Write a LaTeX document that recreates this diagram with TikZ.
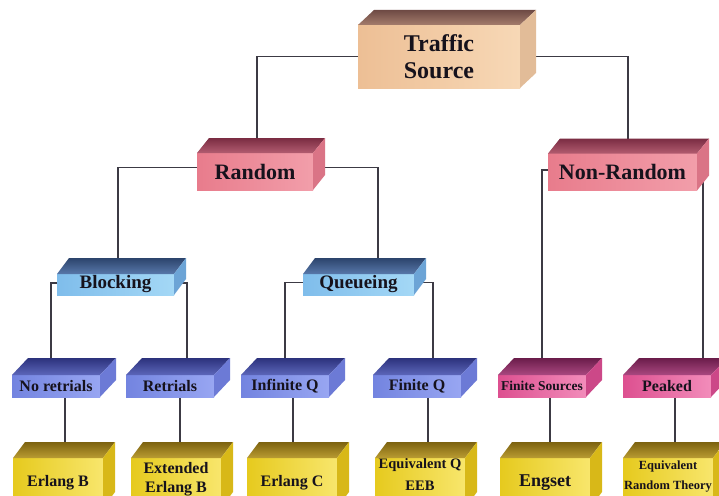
\documentclass[tikz,border=0pt]{standalone}
\usepackage{fontspec}
\setmainfont{Liberation Serif}
\usetikzlibrary{backgrounds}

\definecolor{ink}{HTML}{16121C}
\definecolor{wire}{HTML}{3C3A44}

% top and right faces of a box whose front face is the node #1
% #2,#3: depth offset (right, up); #4,#5: styles of the top and side faces
\newcommand\prismfaces[5]{%
  \path[#4] (#1.north west) -- ++(#2,-#3) -- ([shift={(#2,-#3)}]#1.north east) -- (#1.north east) -- cycle;
  \path[#5] (#1.north east) -- ++(#2,-#3) -- ([shift={(#2,-#3)}]#1.south east) -- (#1.south east) -- cycle;
}

\definecolor{srcA}{HTML}{EDBF95}\definecolor{srcB}{HTML}{F7D8B6}
\definecolor{srcC}{HTML}{6E4A44}\definecolor{srcD}{HTML}{A47C6C}
\definecolor{srcE}{HTML}{E2BC98}
\definecolor{redA}{HTML}{E87C8C}\definecolor{redB}{HTML}{F29EAA}
\definecolor{redC}{HTML}{7A2C42}\definecolor{redD}{HTML}{B25C70}
\definecolor{redE}{HTML}{DA7486}
\definecolor{skyA}{HTML}{7FBDEB}\definecolor{skyB}{HTML}{A4D8F6}
\definecolor{skyC}{HTML}{2C446C}\definecolor{skyD}{HTML}{5878AA}
\definecolor{skyE}{HTML}{6CA4D6}
\definecolor{bluA}{HTML}{7384E0}\definecolor{bluB}{HTML}{98A6F2}
\definecolor{bluC}{HTML}{2C327C}\definecolor{bluD}{HTML}{5C66BA}
\definecolor{bluE}{HTML}{6C7AD6}
\definecolor{pnkA}{HTML}{DD5090}\definecolor{pnkB}{HTML}{F28CBA}
\definecolor{pnkC}{HTML}{6A1C4A}\definecolor{pnkD}{HTML}{AA4880}
\definecolor{pnkE}{HTML}{CC4888}
\definecolor{gldA}{HTML}{E6CA1E}\definecolor{gldB}{HTML}{F8E66C}
\definecolor{gldC}{HTML}{7C6210}\definecolor{gldD}{HTML}{BA9C32}
\definecolor{gldE}{HTML}{D8B818}

\begin{document}
\begin{tikzpicture}[x=1pt,y=-1pt,
  face/.style={rectangle, inner sep=0pt, outer sep=0pt, text=ink, align=center},
  link/.style={draw=wire, line width=1.1pt},
  % source box
  srcbox/.style={face, minimum width=162pt, minimum height=63pt,
    left color=srcA, right color=srcB,
    font=\bfseries\fontsize{24}{27}\selectfont},
  srctop/.style={top color=srcC, bottom color=srcD},
  srcside/.style={fill=srcE},
  % second level
  redbox/.style={face, minimum height=37pt,
    left color=redA, right color=redB,
    font=\bfseries\fontsize{22}{24}\selectfont},
  redtop/.style={top color=redC, bottom color=redD},
  redside/.style={fill=redE},
  % third level
  skybox/.style={face, minimum width=115pt, minimum height=21pt,
    left color=skyA, right color=skyB,
    font=\bfseries\fontsize{19}{21}\selectfont},
  skytop/.style={top color=skyC, bottom color=skyD},
  skyside/.style={fill=skyE},
  % fourth level
  bluebox/.style={face, minimum width=88pt, minimum height=22pt,
    left color=bluA, right color=bluB,
    font=\bfseries\fontsize{16}{18}\selectfont},
  bluetop/.style={top color=bluC, bottom color=bluD},
  blueside/.style={fill=bluE},
  pinkbox/.style={face, minimum width=88pt, minimum height=22pt,
    left color=pnkA, right color=pnkB,
    font=\bfseries\fontsize{16}{18}\selectfont},
  pinktop/.style={top color=pnkC, bottom color=pnkD},
  pinkside/.style={fill=pnkE},
  % fifth level; two-line labels get a fixed text box to sit higher
  goldbox/.style={face, minimum width=90pt, minimum height=50pt,
    left color=gldA, right color=gldB,
    font=\bfseries\fontsize{16}{19}\selectfont},
  lifted/.style={text height=#1, text depth=0pt},
  goldtop/.style={top color=gldC, bottom color=gldD},
  goldside/.style={fill=gldE},
]

\useasboundingbox (0,0) rectangle (719,495);
\clip (0,0) rectangle (719,495);

% ---- boxes ----
\node[srcbox] (ts) at (439,56.5) {Traffic\\Source};
\prismfaces{ts}{16}{15}{srctop}{srcside}

\node[redbox, minimum width=116pt] (rnd) at (255,171.5) {Random};
\prismfaces{rnd}{12}{15}{redtop}{redside}
\node[redbox, minimum width=149pt] (nonrnd) at (622.5,172) {Non-Random};
\prismfaces{nonrnd}{12}{15}{redtop}{redside}

\node[skybox, minimum width=117pt] (blk) at (115.5,284.5) {Blocking};
\prismfaces{blk}{12}{16}{skytop}{skyside}
\node[skybox, minimum width=111pt] (que) at (358.5,284.5) {Queueing};
\prismfaces{que}{12}{16}{skytop}{skyside}

\node[bluebox] (noretr) at (56,386) {No retrials};
\prismfaces{noretr}{16}{17}{bluetop}{blueside}
\node[bluebox] (retr) at (170,386) {Retrials};
\prismfaces{retr}{16}{17}{bluetop}{blueside}
\node[bluebox] (infq) at (285,386) {Infinite Q};
\prismfaces{infq}{16}{17}{bluetop}{blueside}
\node[bluebox] (finq) at (417,386) {Finite Q};
\prismfaces{finq}{16}{17}{bluetop}{blueside}
\node[pinkbox, font=\bfseries\fontsize{13.5}{16}\selectfont] (finsrc) at (542,386) {Finite Sources};
\prismfaces{finsrc}{16}{17}{pinktop}{pinkside}
\node[pinkbox] (peak) at (667,386) {Peaked};
\prismfaces{peak}{16}{17}{pinktop}{pinkside}

\node[goldbox] (erlb) at (58,483) {Erlang B};
\prismfaces{erlb}{12}{16}{goldtop}{goldside}
\node[goldbox, font=\bfseries\fontsize{16}{19}\selectfont, lifted=18pt] (exterlb) at (176,483) {Extended\\Erlang B};
\prismfaces{exterlb}{12}{16}{goldtop}{goldside}
\node[goldbox] (erlc) at (292,483) {Erlang C};
\prismfaces{erlc}{12}{16}{goldtop}{goldside}
\node[goldbox, font=\bfseries\fontsize{14.5}{22}\selectfont, lifted=14pt] (eqq) at (420,483) {Equivalent Q\\EEB};
\prismfaces{eqq}{12}{16}{goldtop}{goldside}
\node[goldbox, font=\bfseries\fontsize{18}{20}\selectfont] (engset) at (545,483) {Engset};
\prismfaces{engset}{12}{16}{goldtop}{goldside}
\node[goldbox, font=\bfseries\fontsize{12.5}{20}\selectfont, lifted=12pt] (eqrt) at (668,483) {Equivalent\\Random Theory};
\prismfaces{eqrt}{12}{16}{goldtop}{goldside}

% ---- white ground and connectors, behind the boxes ----
\begin{scope}[on background layer]
  \fill[white] (0,0) rectangle (719,495);

  \draw[link] (ts.west) -| ([xshift=2pt]rnd.north);
  \draw[link] (ts.east) -| ([xshift=5.5pt]nonrnd.north);

  \draw[link] ([yshift=4pt]rnd.west) -| ([xshift=2.5pt]blk.north);
  \draw[link] ([yshift=4pt]rnd.east) -| ([xshift=19.5pt]que.north);

  \draw[link] ([yshift=2pt]nonrnd.west) -| (finsrc.north);
  \draw[link] ([yshift=2pt]nonrnd.east) -| ([xshift=36pt]peak.north);

  \draw[link] ([yshift=1.5pt]blk.west) -| ([xshift=-5pt]noretr.north);
  \draw[link] ([yshift=1.5pt]blk.east) -| ([xshift=17pt]retr.north);
  \draw[link] ([yshift=2pt]que.west) -| (infq.north);
  \draw[link] ([yshift=2pt]que.east) -| ([xshift=16pt]finq.north);

  \draw[link] ([xshift=9pt]noretr.south) -- ([xshift=9pt]noretr.south |- erlb.north);
  \draw[link] ([xshift=10pt]retr.south) -- ([xshift=10pt]retr.south |- exterlb.north);
  \draw[link] ([xshift=8pt]infq.south) -- ([xshift=8pt]infq.south |- erlc.north);
  \draw[link] ([xshift=11pt]finq.south) -- ([xshift=11pt]finq.south |- eqq.north);
  \draw[link] ([xshift=8pt]finsrc.south) -- ([xshift=8pt]finsrc.south |- engset.north);
  \draw[link] ([xshift=8pt]peak.south) -- ([xshift=8pt]peak.south |- eqrt.north);
\end{scope}
\end{tikzpicture}
\end{document}
